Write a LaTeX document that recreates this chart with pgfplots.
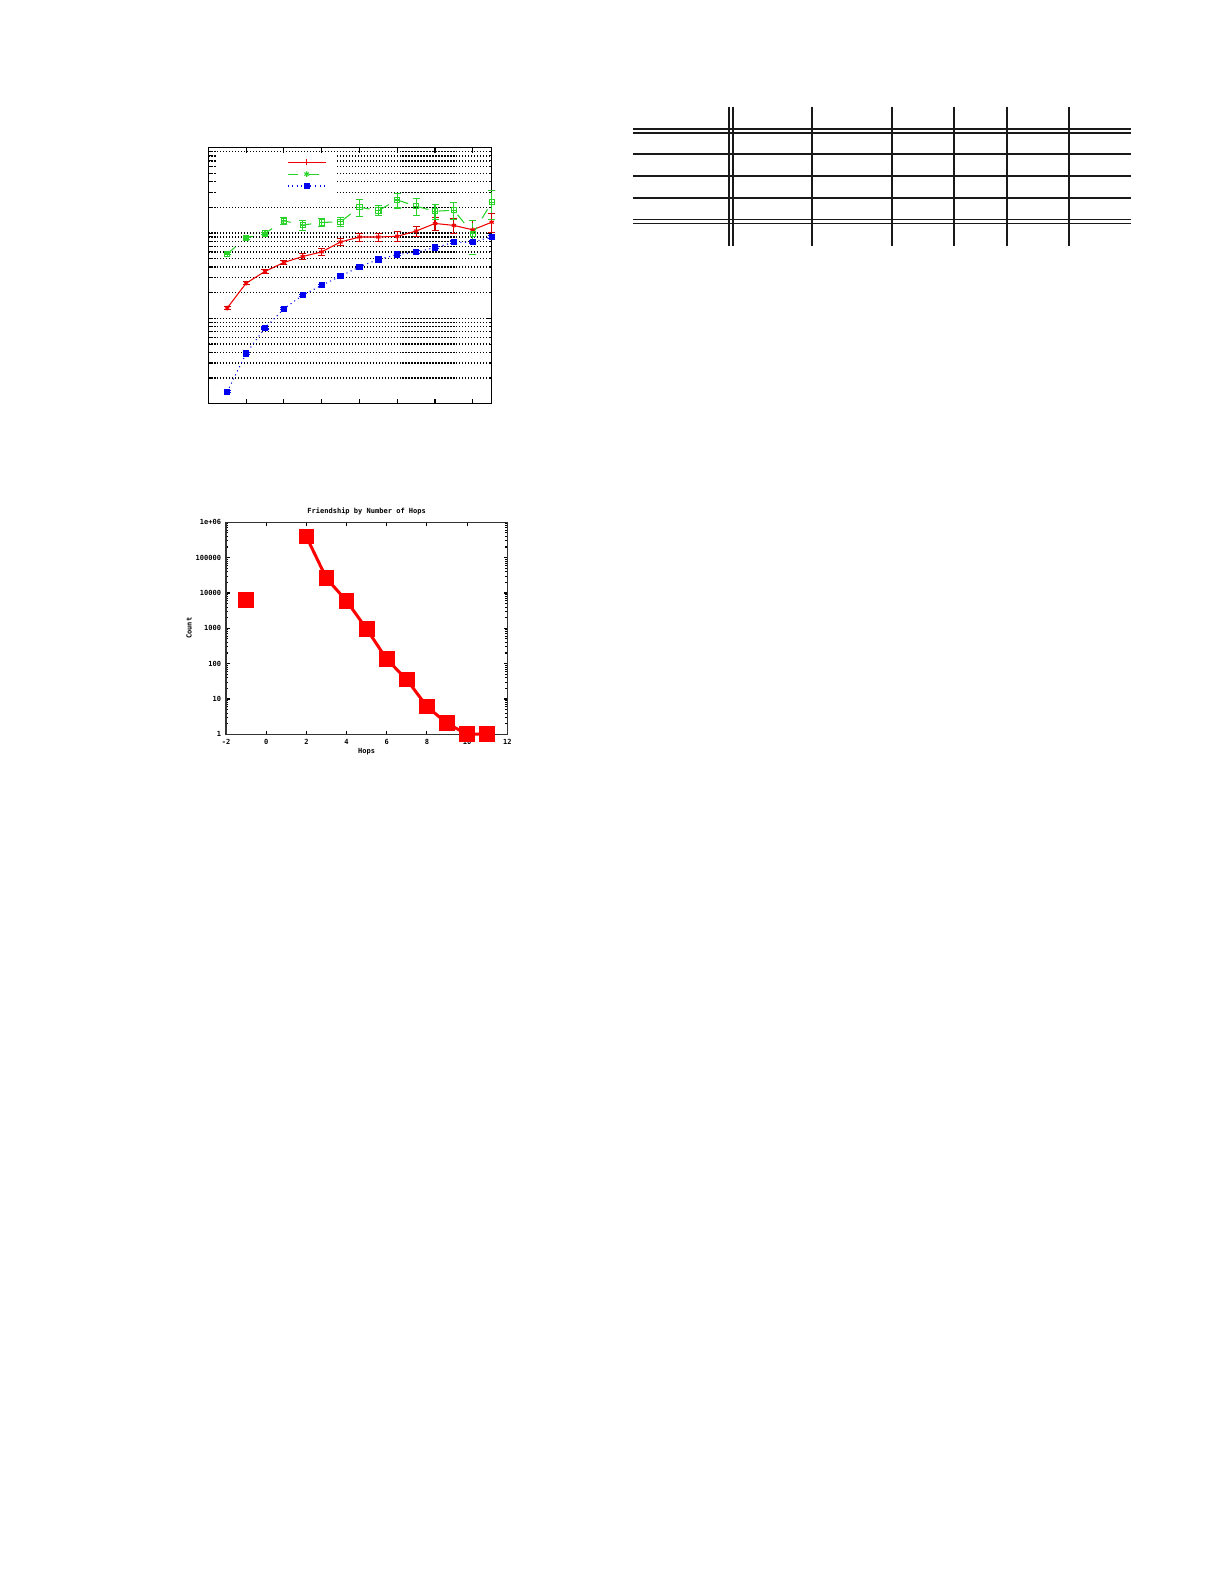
\documentclass[border=0pt]{standalone}
\usepackage{pgfplots}
\pgfplotsset{compat=1.18}
\usepackage{fontspec}
\newfontfamily\gpfont{DejaVu Sans Mono}
\usetikzlibrary{plotmarks}

% square with a plus inside (gnuplot style box-plus)
\pgfdeclareplotmark{boxplus}{%
  \pgfpathrectangle{\pgfqpoint{-\pgfplotmarksize}{-\pgfplotmarksize}}{\pgfqpoint{2\pgfplotmarksize}{2\pgfplotmarksize}}%
  \pgfpathmoveto{\pgfqpoint{-\pgfplotmarksize}{0pt}}\pgfpathlineto{\pgfqpoint{\pgfplotmarksize}{0pt}}%
  \pgfpathmoveto{\pgfqpoint{0pt}{-\pgfplotmarksize}}\pgfpathlineto{\pgfqpoint{0pt}{\pgfplotmarksize}}%
  \pgfusepathqstroke}

\definecolor{gpred}{RGB}{240,0,0}
\definecolor{gpgreen}{RGB}{40,210,40}
\definecolor{gpblue}{RGB}{0,0,240}

\newcommand{\lgstrut}{\rule[-0.665mm]{0pt}{1.33mm}}

\begin{document}
\begin{tikzpicture}
\fill[white] (0,0) rectangle (122.5mm,-158.5mm);
\path[use as bounding box] (0,0) rectangle (122.5mm,-158.5mm);

% ---------- top left chart ----------
\begin{axis}[
  at={(20.83mm,-40.37mm)}, anchor=south west,
  scale only axis, width=28.34mm, height=25.6mm,
  xmin=0, xmax=15, ymin=1, ymax=1000, ymode=log,
  xtick={2,4,...,14}, xticklabel={\relax}, yticklabel={\relax},
  ymajorgrids, yminorgrids,
  major grid style={black, line width=0.35pt, dash pattern=on 0.35pt off 0.5pt},
  minor grid style={black, line width=0.35pt, dash pattern=on 0.35pt off 0.5pt},
  tick align=inside, major tick length=0.5mm, minor tick length=0.3mm,
  tick style={black, line width=0.3pt},
  axis line style={line width=0.35pt},
  clip=false,
  every axis plot/.append style={line width=0.3pt},
  error bars/y dir=both, error bars/y explicit relative,
  error bars/error bar style={line width=0.3pt},
  error bars/error mark options={rotate=90, mark size=1pt, line width=0.3pt},
  legend image code/.code={\draw[mark repeat=2,mark phase=2] plot coordinates {(0mm,0mm) (1.92mm,0mm) (3.84mm,0mm)};},
  legend style={draw=none, fill=none, at={(0.3536,0.897)}, anchor=center,
    nodes={inner sep=0pt}, row sep=0pt},
]
\fill[white] (axis description cs:0.027,0.811) rectangle (axis description cs:0.454,0.977);

\addplot[gpred, solid, mark=asterisk, mark size=0.7pt, forget plot,
  error bars/error bar style={red!80!black}] coordinates {
  (1,13.2) +- (0,0.045) (2,25.8) +- (0,0.036) (3,35.5) +- (0,0.045)
  (4,45.2) +- (0,0.064) (5,53.1) +- (0,0.074) (6,60.1) +- (0,0.093)
  (7,78.6) +- (0,0.093) (8,89.8) +- (0,0.103) (9,89.8) +- (0,0.113)
  (10,91.5) +- (0,0.133) (11,105.5) +- (0,0.143) (12,129.5) +- (0,0.174)
  (13,122.8) +- (0,0.195) (14,109) +- (0,0.284) (15,134) +- (0,0.25)
};
\addplot[gpgreen, dashed, mark=boxplus, mark size=0.75pt, mark options={solid}, forget plot] coordinates {
  (1,57.0) +- (0,0.027) (2,87.5) +- (0,0.036) (3,99.1) +- (0,0.036)
  (4,139) +- (0,0.084) (5,124) +- (0,0.133) (6,133) +- (0,0.113)
  (7,135.5) +- (0,0.123) (8,200.6) +- (0,0.217) (9,183.5) +- (0,0.133)
  (10,244) +- (0,0.195) (11,206) +- (0,0.217) (12,180) +- (0,0.195)
  (13,185) +- (0,0.217) (14,98.3) +- (0,0.43) (15,229) +- (0,0.367)
};
\addplot[gpblue, densely dotted, mark=square*, mark size=0.75pt, mark options={solid}, forget plot] coordinates {
  (1,1.38) +- (0,0.027) (2,3.88) +- (0,0.027) (3,7.72) +- (0,0.027)
  (4,12.95) +- (0,0.027) (5,18.7) +- (0,0.027) (6,24.4) +- (0,0.027)
  (7,31.3) +- (0,0.027) (8,40.2) +- (0,0.027) (9,49.0) +- (0,0.036)
  (10,56.0) +- (0,0.036) (11,59.6) +- (0,0.036) (12,67.5) +- (0,0.036)
  (13,77.9) +- (0,0.036) (14,77.9) +- (0,0.036) (15,90.6) +- (0,0.045)
};
\addlegendimage{gpred, solid, line width=0.3pt, mark=+, mark size=0.8pt}
\addlegendentry{\lgstrut}
\addlegendimage{gpgreen, dashed, line width=0.3pt, mark=asterisk, mark size=0.8pt, mark options={solid}}
\addlegendentry{\lgstrut}
\addlegendimage{gpblue, densely dotted, line width=0.3pt, mark=square*, mark size=0.75pt, mark options={solid}}
\addlegendentry{\lgstrut}
\end{axis}

% ---------- bottom chart ----------
\begin{axis}[
  at={(22.6mm,-73.43mm)}, anchor=south west,
  scale only axis, width=28.13mm, height=21.2mm,
  xmin=-2, xmax=12, ymin=1, ymax=1000000, ymode=log,
  xtick={-2,0,2,4,6,8,10,12},
  xticklabels={-2,0,2,4,6,8,10,12},
  ytick={1,10,100,1000,10000,100000,1000000},
  yticklabels={1,10,100,1000,10000,100000,1e+06},
  font=\gpfont\bfseries\fontsize{2pt}{2.3pt}\selectfont,
  tick align=inside, major tick length=0.35mm, minor tick length=0.2mm,
  tick style={black, line width=0.3pt},
  axis line style={black!80, line width=0.3pt},
  xticklabel style={anchor=center, inner sep=0pt, yshift=-0.8mm},
  yticklabel style={anchor=east, inner sep=0pt, xshift=-0.43mm},
  title={Friendship by Number of Hops},
  every axis title shift=0pt,
  title style={at={(0.5,1.05)}, anchor=center},
  xlabel={Hops}, xlabel style={at={(0.5,-0.082)}, anchor=center},
  ylabel={Count}, ylabel style={at={(-0.1315,0.5)}, anchor=center},
  clip=false,
]
\addplot[red, line width=0.3mm, mark=square*, mark size=0.635mm, unbounded coords=jump] table {
x y
-1 6200
0 nan
1 nan
2 393000
3 26000
4 5940
5 958
6 133
7 35.3
8 6.07
9 2.05
10 1
11 1.02
};
\end{axis}

% ---------- empty table rules (top right) ----------
\begin{scope}[x=0.1mm, y=-0.1mm, line width=0.45pt, black!90]
  \foreach \yy in {129,133,198,219.7,223.7} \draw (633,\yy) -- (1131,\yy);
  \foreach \yy in {154.3,176.3} \draw[line width=0.55pt] (633,\yy) -- (1131,\yy);
  \foreach \xx in {729,733,812,892,954,1006.7,1069} \draw (\xx,106.7) -- (\xx,245.7);
\end{scope}
\end{tikzpicture}
\end{document}
